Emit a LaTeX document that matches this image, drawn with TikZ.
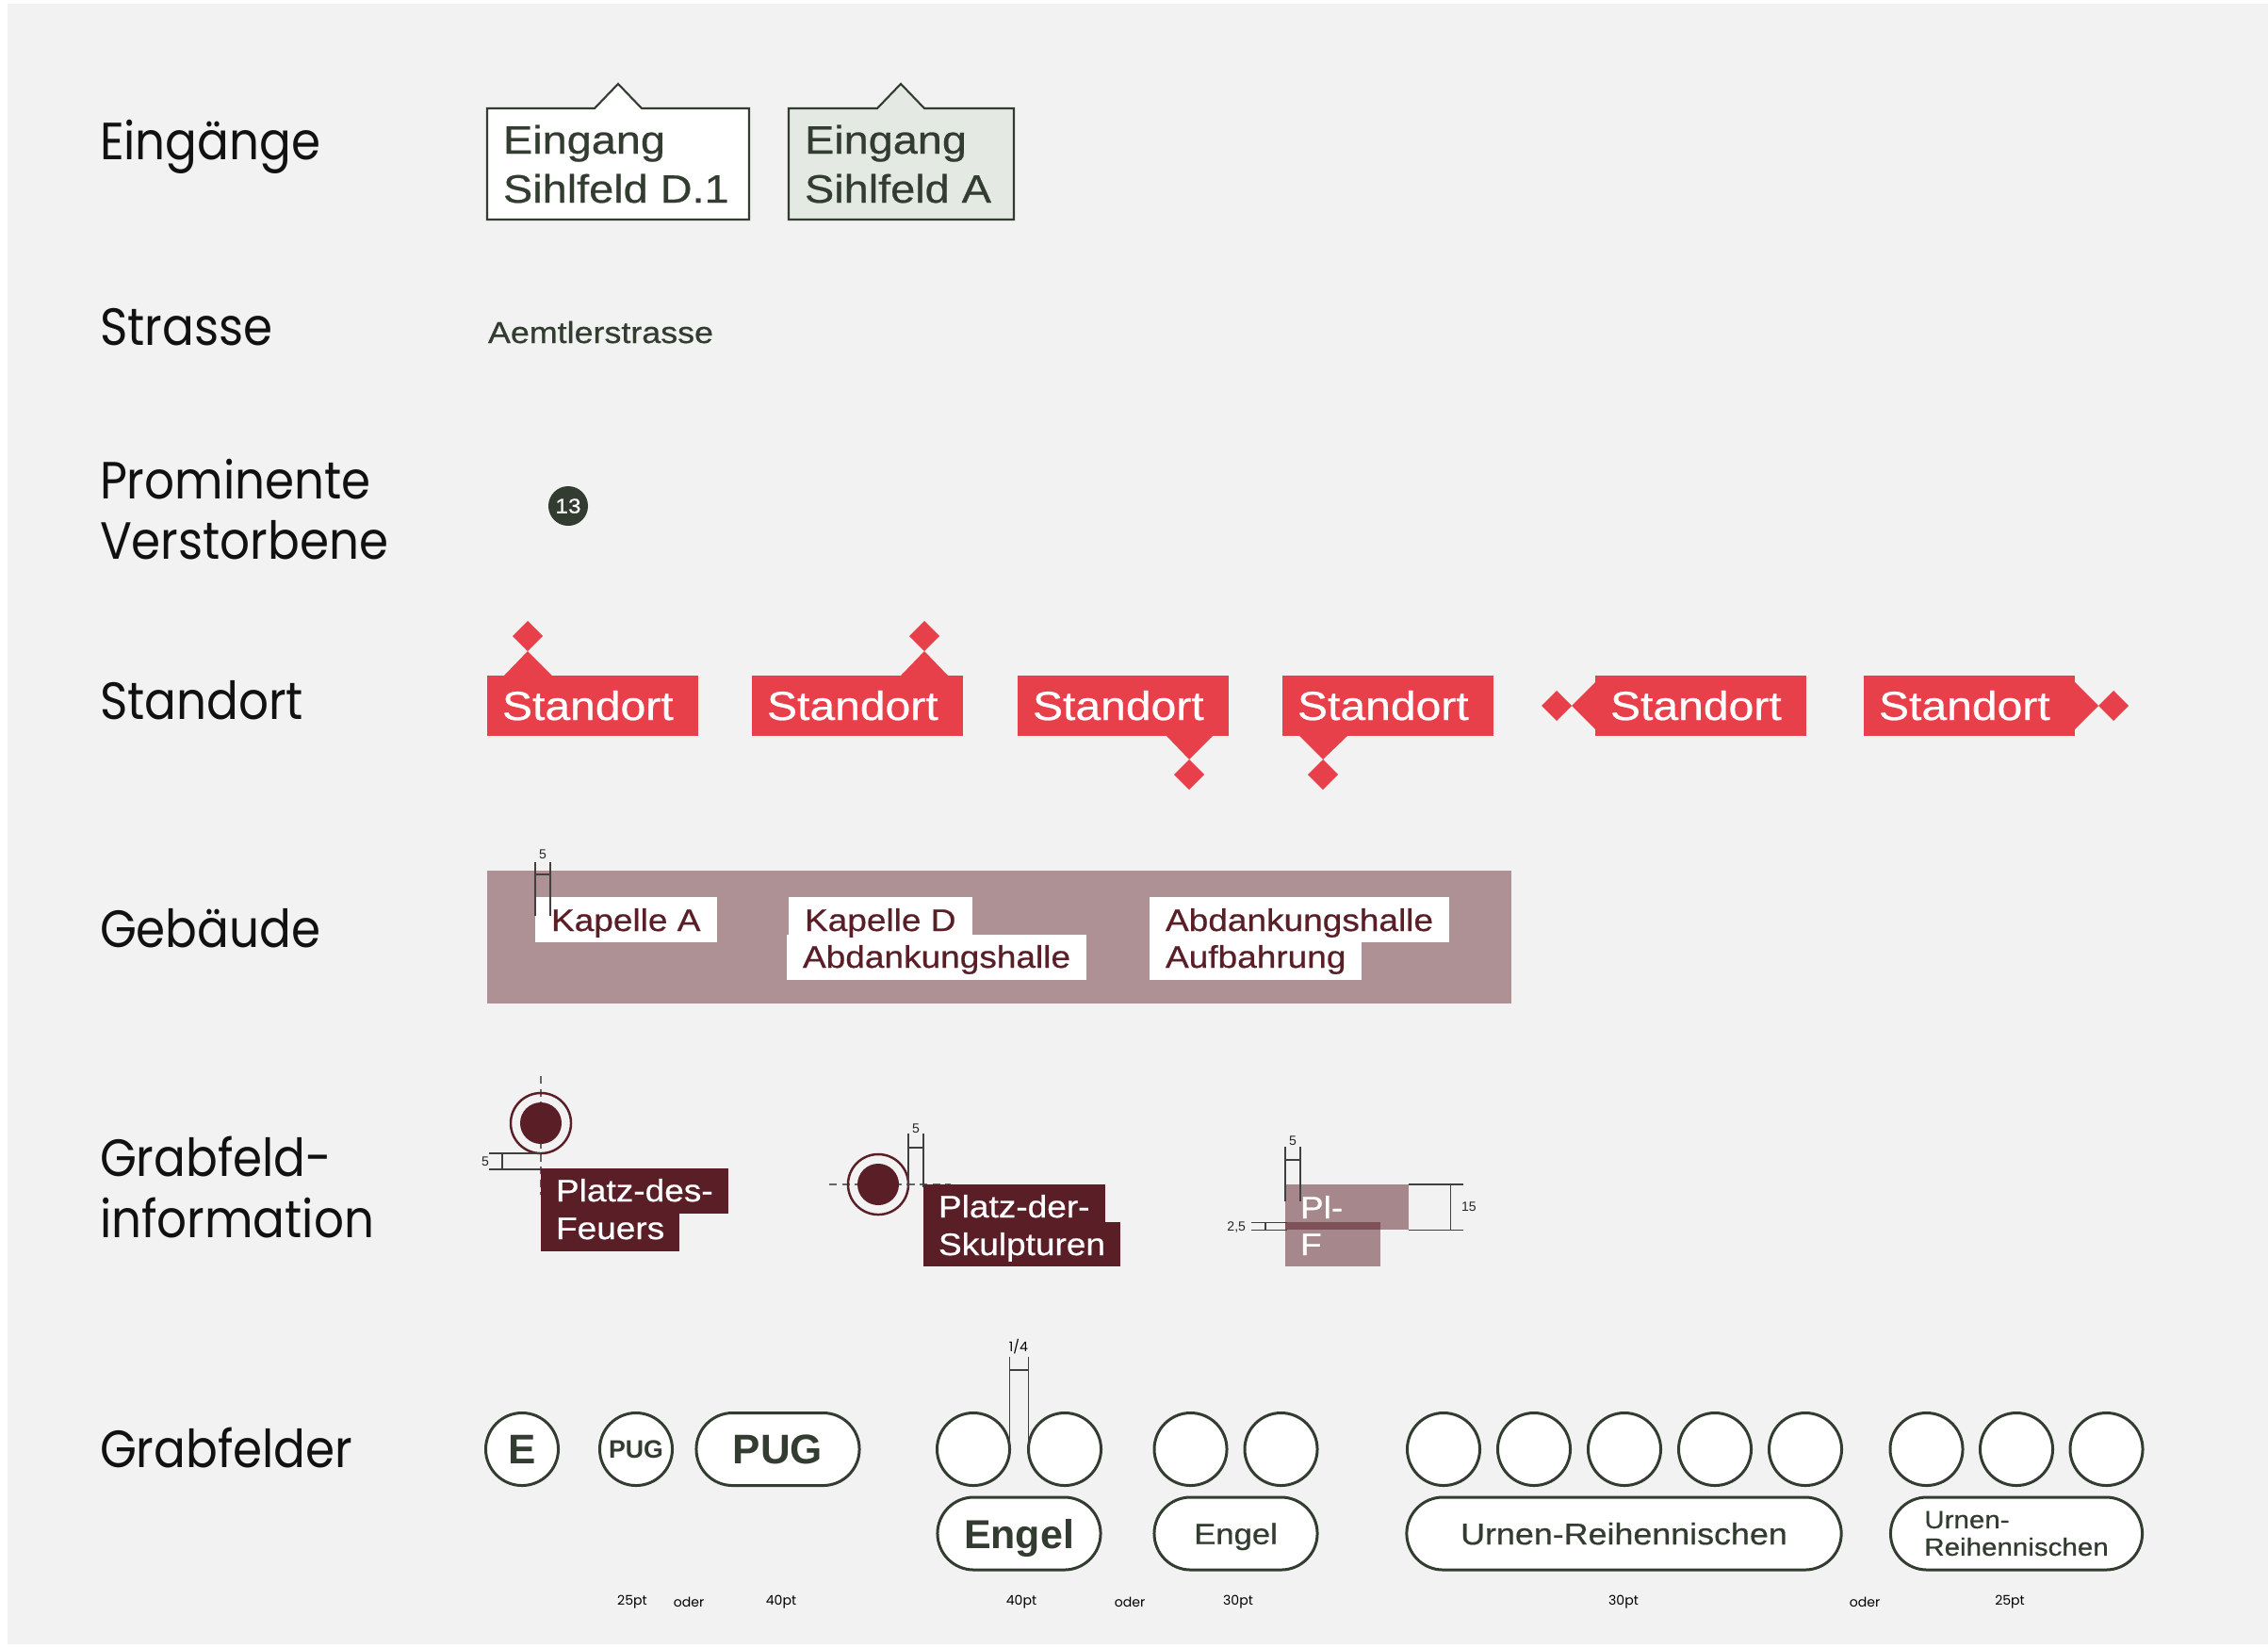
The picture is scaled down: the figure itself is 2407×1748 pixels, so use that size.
\documentclass[tikz,border=0pt]{standalone}
\usepackage{fontspec}
\setmainfont{Liberation Sans}
\newfontfamily\headfont[FakeStretch=0.9]{Poppins}
\newfontfamily\signfont[FakeStretch=1.12, FakeBold=0.6]{Liberation Sans}
\newfontfamily\grabfont{Liberation Sans}
\newfontfamily\notefont{Poppins}
\usetikzlibrary{shapes.geometric}
\definecolor{bg}{HTML}{F2F2F2}
\definecolor{ink}{HTML}{111111}
\definecolor{dark}{HTML}{333C31}
\definecolor{signgreen}{HTML}{E4E9E4}
\definecolor{rot}{HTML}{E8404A}
\definecolor{mauve}{HTML}{AD9194}
\definecolor{maroon}{HTML}{5A1E27}

\begin{document}
\begin{tikzpicture}[x=0.01cm, y=-0.01cm,
    every node/.style={inner sep=0pt, outer sep=0pt},
    heading/.style={anchor=base west, text=ink,
                    font=\headfont\fontsize{15.8}{18}\selectfont},
    schild/.style={draw=dark, fill=white, line width=0.6pt},
    schildtxt/.style={anchor=base west, text=dark,
                      font=\signfont\fontsize{11.9}{14}\selectfont},
    strasse/.style={anchor=base west, text=dark,
                    font=\signfont\fontsize{9.1}{11}\selectfont},
    badge/.style={circle, fill=dark, text=white, minimum size=0.42cm,
                  font=\signfont\fontsize{6.2}{7}\selectfont},
    standort/.style={fill=rot},
    raute/.style={diamond, fill=rot, minimum width=0.32cm, minimum height=0.32cm},
    stdtxt/.style={anchor=base west, text=white,
                   font=\signfont\fontsize{12.2}{14}\selectfont},
    bautxt/.style={anchor=base west, fill=white, text=maroon, inner xsep=0.17cm,
                   font=\signfont\fontsize{9.4}{11}\selectfont},
    platz/.style={anchor=base west, fill=maroon, text=white, inner xsep=0.16cm,
                  font=\signfont\fontsize{9.4}{11}\selectfont},
    ring/.style={circle, draw=maroon, line width=0.7pt, minimum size=0.64cm},
    punkt/.style={circle, fill=maroon, minimum size=0.44cm},
    dim/.style={draw=black!75, line width=0.3pt},
    achse/.style={draw=black!60, line width=0.45pt, dash pattern=on 2.4pt off 1.5pt},
    masz/.style={text=black!85, font=\grabfont\fontsize{4}{5}\selectfont},
    grab/.style={circle, draw=dark, fill=white, line width=0.85pt,
                 minimum size=0.77cm, text=dark},
    pille/.style={rectangle, rounded corners=0.385cm, draw=dark, fill=white,
                  line width=0.85pt, minimum height=0.77cm, text=dark},
    note/.style={text=black, font=\notefont\fontsize{4}{5}\selectfont}
]
\useasboundingbox (0,0) rectangle (2407,1748);
\fill[white] (0,0) rectangle (2407,1748);
\fill[bg] (8,4) rectangle (2407,1745);

% headings
\node[heading] (h1) at (106,169) {Eingänge};
\node[heading] (h2) at (106,366) {Strasse};
\node[heading] (h3a) at (106,529) {Prominente};
\node[heading] (h3b) at (106,593) {Verstorbene};
\node[heading] (h4) at (106,763) {Standort};
\node[heading] (h5) at (106,1005) {Gebäude};
\node[heading] (h6a) at (106,1248) {Grabfeld-};
\node[heading] (h6b) at (106,1313) {information};
\node[heading] (h7) at (106,1557) {Grabfelder};

% Eingaenge
\filldraw[schild] (517,233) -- (517,115) -- (631,115) -- (656,89) -- (681,115)
    -- (795,115) -- (795,233) -- cycle;
\filldraw[schild, fill=signgreen] (837,233) -- (837,115) -- (931,115) -- (956,89)
    -- (981,115) -- (1076,115) -- (1076,233) -- cycle;
\node[schildtxt] (ein1a) at (534,163) {Eingang};
\node[schildtxt] (ein1b) at (534,215) {Sihlfeld D.1};
\node[schildtxt] (ein2a) at (854,163) {Eingang};
\node[schildtxt] (ein2b) at (854,215) {Sihlfeld A};

% Strasse, Prominente
\node[strasse] (str) at (518,364) {Aemtlerstrasse};
\node[badge] (prom) at (603,537) {13};

% Standort
\foreach \x [count=\i] in {517,798,1080,1361,1693,1978} {
  \fill[standort] (\x,717) rectangle ++(224,64);
  \node[stdtxt] (std\i) at (\x+16,764) {Standort};
}
\node[raute] (r1) at (560,675) {};
\node[raute] (r2) at (981,675) {};
\node[raute] (r3) at (1262,822) {};
\node[raute] (r4) at (1404,822) {};
\node[raute] (r5) at (1652,749) {};
\node[raute] (r6) at (2243,749) {};
\fill[standort] (535,717) -- (r1.south) -- (586,717) -- cycle;
\fill[standort] (956,717) -- (r2.south) -- (1006,717) -- cycle;
\fill[standort] (1238,781) -- (r3.north) -- (1287,781) -- cycle;
\fill[standort] (1379,781) -- (r4.north) -- (1430,781) -- cycle;
\fill[standort] (1693,724) -- (r5.east) -- (1693,774) -- cycle;
\fill[standort] (2202,724) -- (r6.west) -- (2202,774) -- cycle;

% Gebaeude
\fill[mauve] (517,924) rectangle (1604,1065);
\node[bautxt, text height=0.36cm, text depth=0.12cm] (kapa) at (568,988) {Kapelle A};
\node[bautxt, text height=0.35cm, text depth=0.13cm] (abd1) at (835,1027) {Abdankungshalle};
\node[bautxt, text height=0.36cm, text depth=0.04cm] (kapd) at (837,988) {Kapelle D};
\node[bautxt, text height=0.27cm, text depth=0.13cm] (aufb) at (1220,1027) {Aufbahrung};
\node[bautxt, text height=0.36cm, text depth=0.12cm] (abd2) at (1220,988) {Abdankungshalle};
\draw[dim] (568,915) -- (568,972) (584,915) -- (584,972);
\draw[dim, line width=0.5pt] (568,928) -- (584,928);
\node[masz] (m5) at (576,907) {5};

% Grabfeldinformation
\draw[achse] (574,1142) -- (574,1268);
\node[ring] (ring1) at (574,1192) {};
\node[punkt] (pkt1) at (574,1192) {};
\node[platz, text height=0.27cm, text depth=0.13cm] (feu) at (574,1315) {Feuers};
\node[platz, text height=0.35cm, text depth=0.13cm] (pdes) at (574,1275) {Platz-des-};
\draw[dim] (519,1224) -- (574,1224) (519,1241) -- (574,1241) (533,1224) -- (533,1241);
\node[masz] (m5a) at (515,1233) {5};

\draw[achse] (880,1257) -- (1009,1257);
\node[ring] (ring2) at (932,1257) {};
\node[punkt] (pkt2) at (932,1257) {};
\node[platz, text height=0.35cm, text depth=0.12cm] (skul) at (980,1332) {Skulpturen};
\node[platz, text height=0.35cm, text depth=0.05cm] (pder) at (980,1292) {Platz-der-};
\draw[dim] (964,1203) -- (964,1260) (980,1203) -- (980,1260) (964,1218) -- (980,1218);
\node[masz] (m5b) at (972,1198) {5};

\fill[maroon, opacity=0.5] (1364,1257) rectangle (1495,1305);
\fill[maroon, opacity=0.5] (1364,1297) rectangle (1465,1344);
\node[platz, fill=none, inner xsep=0pt] (pl) at (1380,1293) {Pl-};
\node[platz, fill=none, inner xsep=0pt] (plf) at (1380,1332) {F};
\draw[dim] (1364,1217) -- (1364,1275) (1380,1217) -- (1380,1275) (1364,1231) -- (1380,1231);
\node[masz] (m5c) at (1372,1211) {5};
\draw[dim] (1495,1257) -- (1553,1257) (1495,1305) -- (1553,1305) (1539,1257) -- (1539,1305);
\node[masz, anchor=west] (m15) at (1551,1281) {15};
\draw[dim] (1328,1297) -- (1366,1297) (1328,1305) -- (1366,1305) (1343,1297) -- (1343,1305);
\node[masz, anchor=east] (m25) at (1322,1302) {2,5};

% Grabfelder
\node[grab, font=\grabfont\bfseries\fontsize{12.5}{14}\selectfont] (e) at (554,1538) {E};
\node[grab, font=\grabfont\bfseries\fontsize{7.6}{9}\selectfont] (pug1) at (675,1538) {PUG};
\node[pille, minimum width=1.73cm, font=\grabfont\bfseries\fontsize{12.5}{14}\selectfont]
    (pug2) at (825.5,1538) {PUG};

\foreach \x [count=\i] in {1033,1130} \node[grab] (ea\i) at (\x,1538) {};
\node[pille, minimum width=1.73cm, text depth=0pt,
      font=\grabfont\bfseries\fontsize{12.2}{14}\selectfont]
    (engela) at (1081.5,1627.5) {Engel};
\draw[dim] (ea1.east) -- ++(0,-98) (ea2.west) -- ++(0,-98);
\draw[dim, line width=0.5pt] (1072,1454) -- (1091,1454);
\node[note] (viertel) at (1081,1429) {1/4};

\foreach \x [count=\i] in {1263.5,1359.5} \node[grab] (eb\i) at (\x,1538) {};
\node[pille, minimum width=1.73cm, text depth=0pt,
      font=\signfont\fontsize{8.8}{10}\selectfont]
    (engelb) at (1311.5,1627.5) {Engel};

\foreach \x [count=\i] in {1532,1628,1724,1820,1916} \node[grab] (ua\i) at (\x,1538) {};
\node[pille, minimum width=4.61cm, text depth=0pt,
      font=\signfont\fontsize{9.1}{11}\selectfont]
    (urna) at (1723.5,1627.5) {Urnen-Reihennischen};

\foreach \x [count=\i] in {2044.5,2140,2235.5} \node[grab] (ub\i) at (\x,1538) {};
\node[pille, minimum width=2.67cm, align=left,
      font=\signfont\fontsize{7.5}{8.25}\selectfont]
    (urnb) at (2140,1627.5) {Urnen-\\Reihennischen};

\foreach \x/\t [count=\i] in {671/25pt, 731/oder, 829/40pt, 1084/40pt, 1199/oder,
    1314/30pt, 1723/30pt, 1979/oder, 2133/25pt}
  \node[note] (n\i) at (\x,1700) {\t};
\end{tikzpicture}
\end{document}
